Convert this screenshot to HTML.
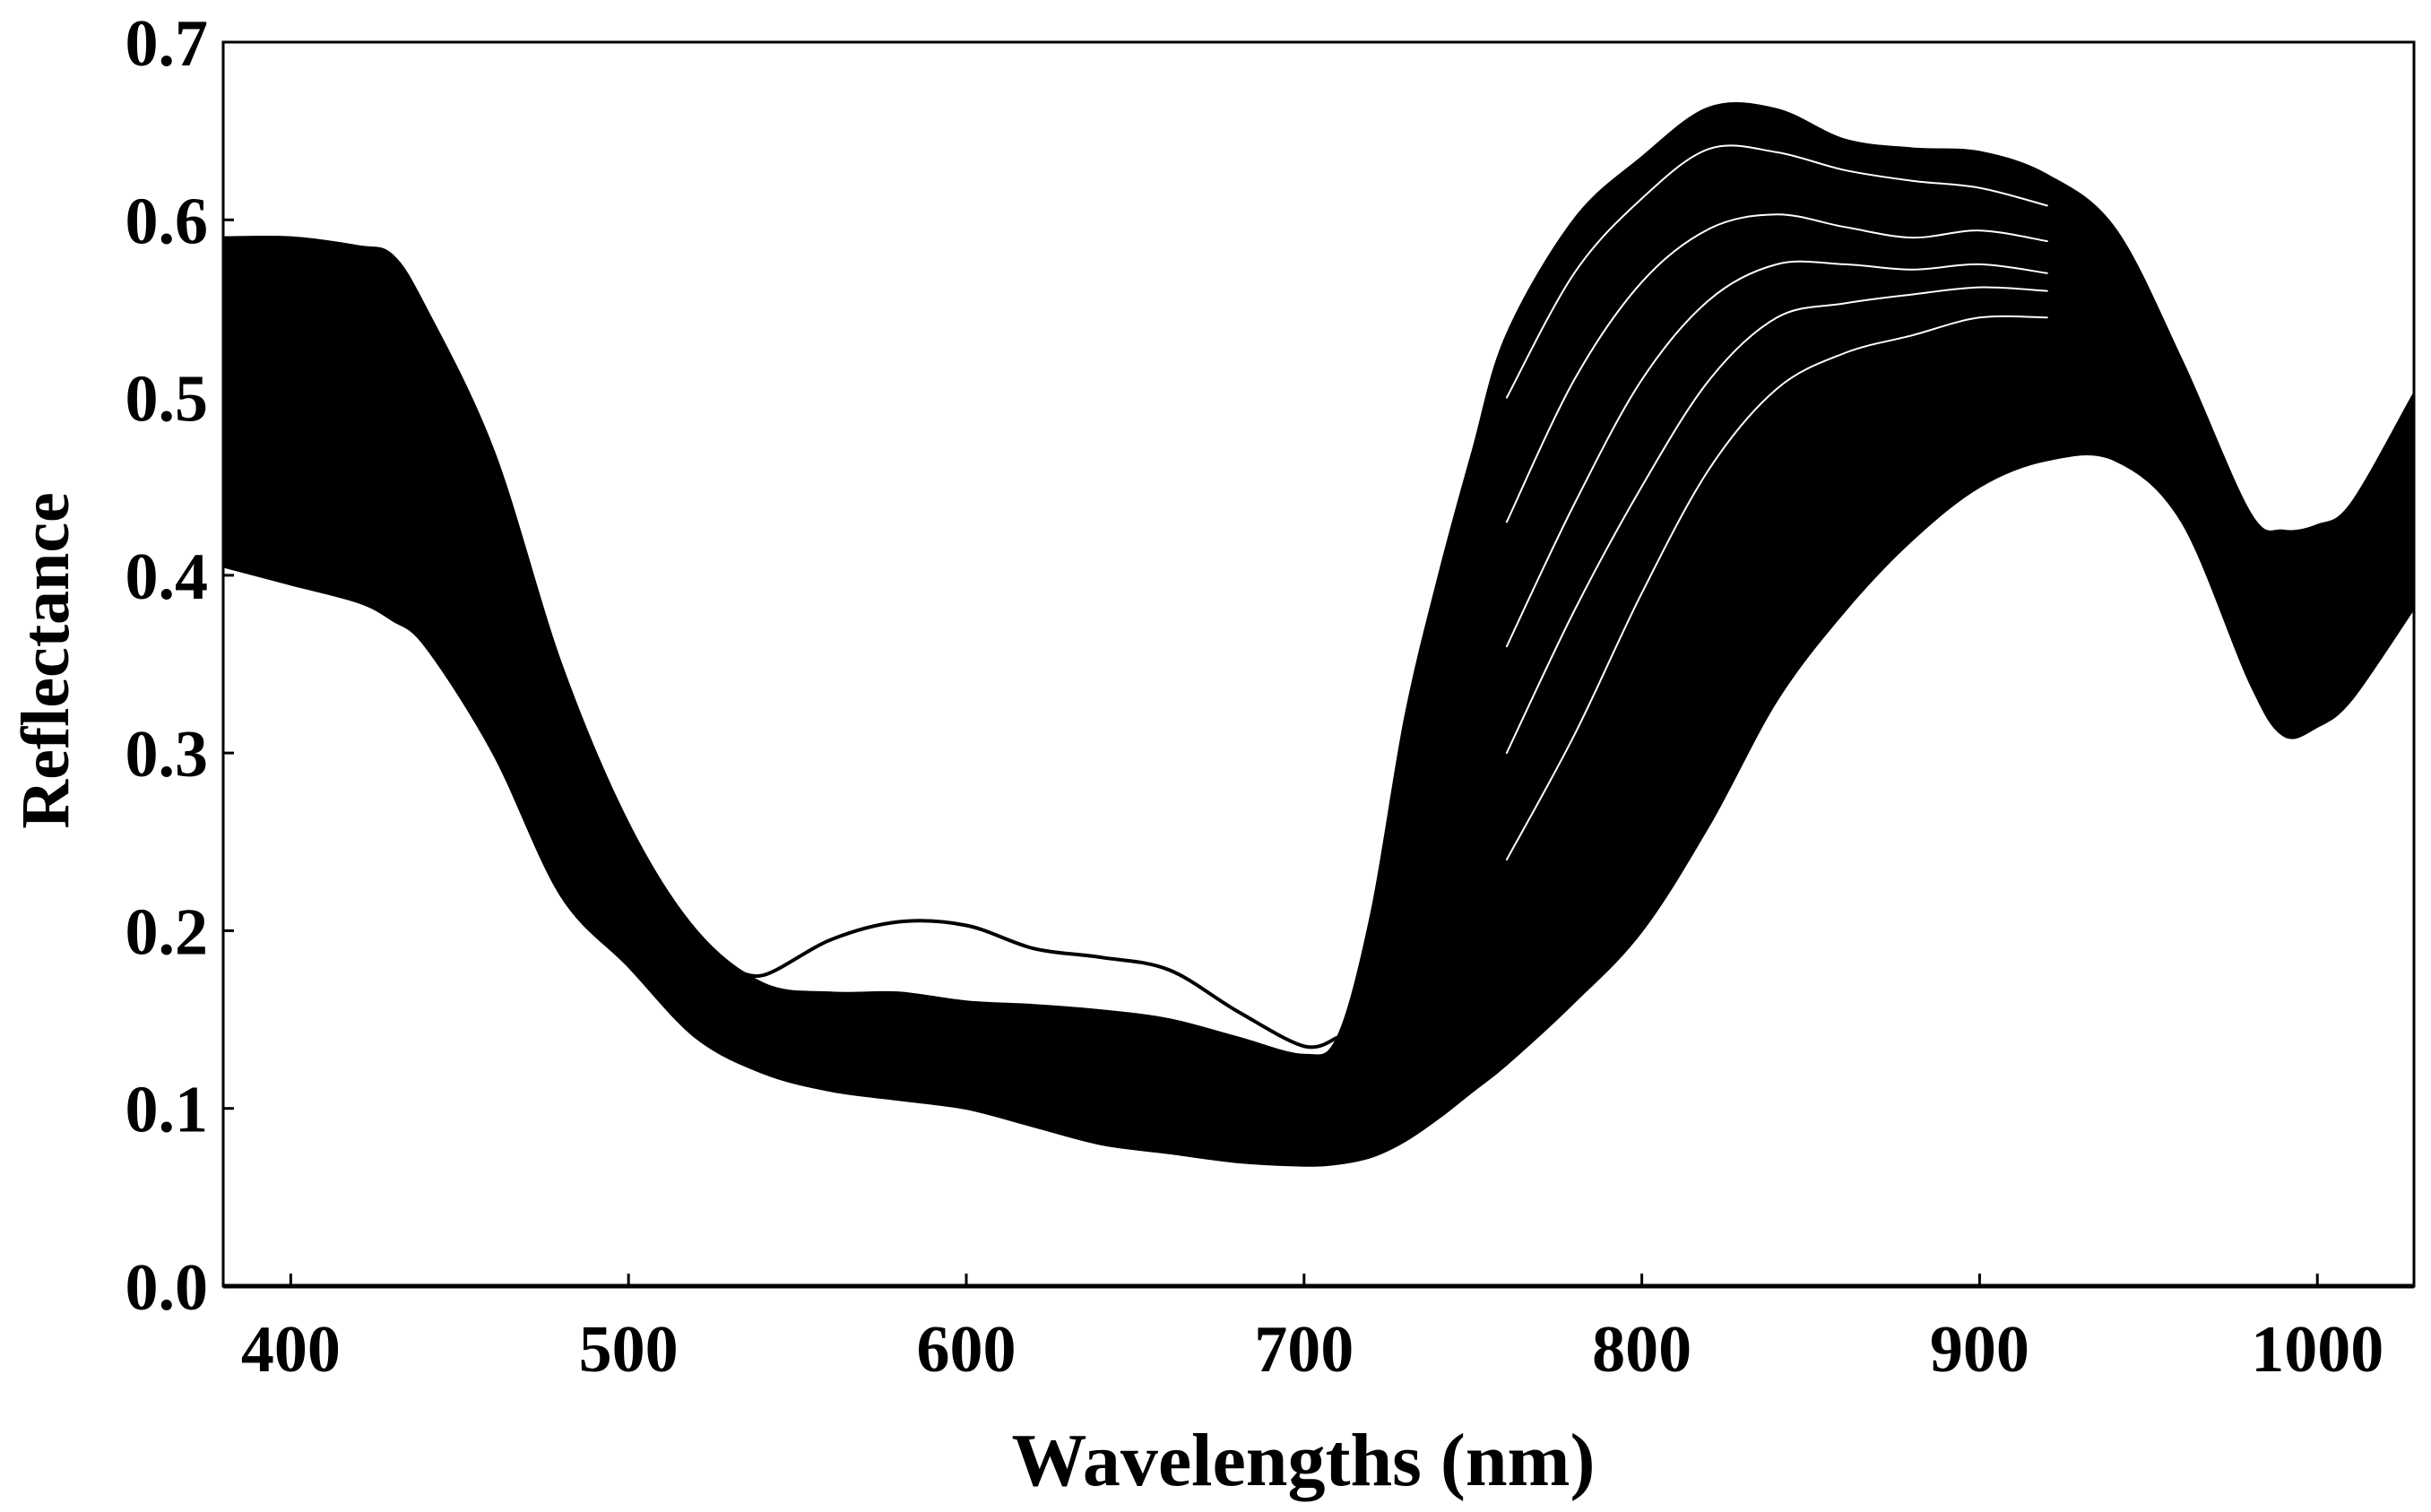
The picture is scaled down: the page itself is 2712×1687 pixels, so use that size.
<!DOCTYPE html>
<html><head><meta charset="utf-8">
<style>
html,body{margin:0;padding:0;background:#fff;}
svg{display:block;}
text{font-family:"Liberation Serif",serif;font-weight:bold;fill:#000;}
</style></head>
<body>
<svg id="chart" width="2712" height="1687" viewBox="0 0 2712 1687" xmlns="http://www.w3.org/2000/svg">
<g id="plot"></g>
<g id="axes"></g>
<text x="1454" y="1657" font-size="84" text-anchor="middle">Wavelengths (nm)</text>
<text x="0" y="0" font-size="76" text-anchor="middle" transform="translate(76,737) rotate(-90)">Reflectance</text>
</svg>
<script>
const wl = [380,400,420,430,440,460,480,500,520,540,560,580,600,620,640,660,680,700,710,720,730,740,750,760,780,800,820,840,860,880,900,920,940,960,980,990,1000,1010,1028];
const upper = [0.59,0.59,0.585,0.58,0.55,0.47,0.35,0.26,0.20,0.17,0.165,0.165,0.16,0.158,0.155,0.15,0.14,0.13,0.14,0.21,0.32,0.40,0.47,0.535,0.60,0.635,0.663,0.662,0.645,0.64,0.638,0.625,0.595,0.52,0.435,0.425,0.428,0.44,0.50];
const lower = [0.405,0.395,0.385,0.375,0.36,0.30,0.22,0.18,0.14,0.12,0.11,0.105,0.10,0.09,0.08,0.075,0.07,0.068,0.069,0.073,0.082,0.095,0.11,0.125,0.16,0.20,0.26,0.33,0.38,0.42,0.45,0.465,0.465,0.43,0.34,0.31,0.315,0.33,0.38];
const outlierWl = [530,540,560,580,600,620,640,660,680,700,710];
const outlierVal = [0.18,0.175,0.195,0.205,0.203,0.19,0.185,0.178,0.155,0.135,0.14];
const streakWl = [760,780,800,820,840,860,880,900,920];
const streak1 = [0.50,0.57,0.612,0.64,0.638,0.628,0.622,0.618,0.608];
const streak2 = [0.43,0.51,0.565,0.595,0.603,0.596,0.59,0.594,0.588];
const streak3 = [0.36,0.44,0.51,0.555,0.575,0.575,0.572,0.575,0.57];
const streak4 = [0.30,0.38,0.45,0.51,0.545,0.553,0.558,0.562,0.56];
const streak5 = [0.24,0.31,0.39,0.46,0.505,0.525,0.535,0.545,0.545];
const xTicks = [400,500,600,700,800,900,1000];
const yTicks = [0.0,0.1,0.2,0.3,0.4,0.5,0.6,0.7];

const L=249,R=2693,T=47,B=1435;
const X0=380,X1=1028.6,Y0=0,Y1=0.7;
function xs(w){return L+(w-X0)/(X1-X0)*(R-L);}
function ys(v){return B-(v-Y0)/(Y1-Y0)*(B-T);}
const NS="http://www.w3.org/2000/svg";
const plot=document.getElementById('plot');
const axes=document.getElementById('axes');
function mk(tag,attrs,parent){const e=document.createElementNS(NS,tag);for(const k in attrs)e.setAttribute(k,attrs[k]);parent.appendChild(e);return e;}
function smooth(pts,start){
  let d=(start?'M':'L')+pts[0][0].toFixed(1)+','+pts[0][1].toFixed(1);
  for(let i=0;i<pts.length-1;i++){
    const p0=pts[Math.max(0,i-1)],p1=pts[i],p2=pts[i+1],p3=pts[Math.min(pts.length-1,i+2)];
    const c1=[p1[0]+(p2[0]-p0[0])/6,p1[1]+(p2[1]-p0[1])/6];
    const c2=[p2[0]-(p3[0]-p1[0])/6,p2[1]-(p3[1]-p1[1])/6];
    d+='C'+c1[0].toFixed(1)+','+c1[1].toFixed(1)+' '+c2[0].toFixed(1)+','+c2[1].toFixed(1)+' '+p2[0].toFixed(1)+','+p2[1].toFixed(1);
  }
  return d;
}
const up=wl.map((w,i)=>[xs(w),ys(upper[i])]);
const lo=wl.map((w,i)=>[xs(w),ys(lower[i])]).reverse();
const band=mk('path',{d:smooth(up,true)+smooth(lo,false)+'Z',fill:'#000',stroke:'#000','stroke-width':3},plot);



function line(ws,vs,stroke,width){
  return mk('path',{d:smooth(ws.map((w,i)=>[xs(w),ys(vs[i])]),true),fill:'none',stroke:stroke,'stroke-width':width,'stroke-linecap':'round'},plot);
}
const streaks=[streak1,streak2,streak3,streak4,streak5];
streaks.forEach((s,i)=>{
  const p=line(streakWl,s,'#fff',2);
  
  
});
const out=line(outlierWl,outlierVal,'#000',4);



const fr=mk('rect',{x:L,y:T,width:R-L,height:B-T,fill:'none',stroke:'#000','stroke-width':3},axes);


const xa=mk('line',{x1:L,y1:B,x2:R,y2:B,stroke:'#000','stroke-width':5},axes);



xTicks.forEach(t=>{
  const tk=mk('line',{x1:xs(t),y1:B,x2:xs(t),y2:B-14,stroke:'#000','stroke-width':3},axes);
  
  
  const tx=mk('text',{x:xs(t),y:1530,'font-size':74,'text-anchor':'middle'},axes);
  tx.textContent=t;
  
  
});
yTicks.forEach(t=>{
  const tk=mk('line',{x1:L,y1:ys(t),x2:L+12,y2:ys(t),stroke:'#000','stroke-width':3},axes);
  
  
  const tx=mk('text',{x:232,y:ys(t)+26,'font-size':74,'text-anchor':'end'},axes);
  tx.textContent=t.toFixed(1);
  
  
});
</script>
</body></html>
